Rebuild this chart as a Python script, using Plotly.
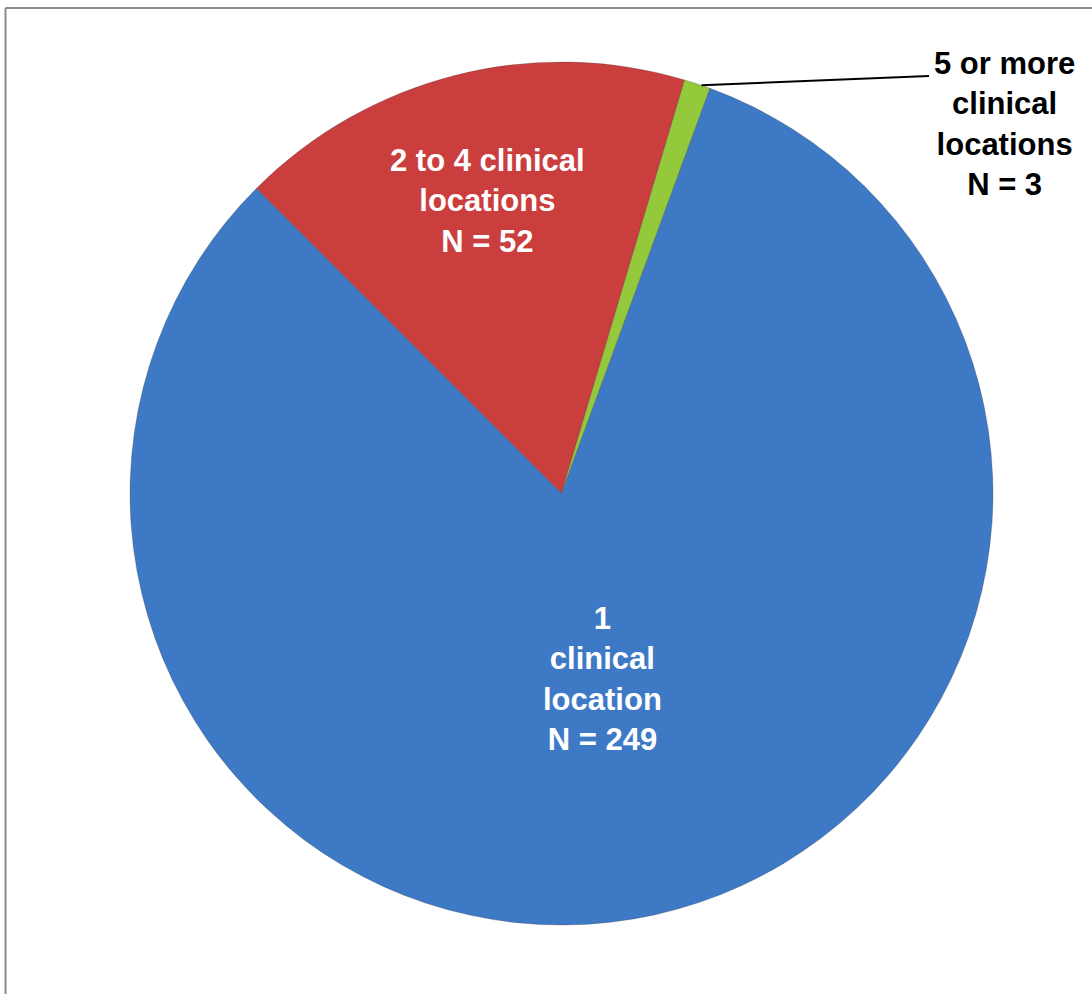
import math
import plotly.graph_objects as go

# Data
categories = ["2 to 4 clinical<br>locations", "5 or more<br>clinical<br>locations", "1<br>clinical<br>location"]
counts = [52, 3, 249]
colors = ["#CB3E3E", "#94C93C", "#3E79C6"]

W, H = 1092, 994
# pie placement in pixels
CX, CY, R = 561.5, 493.5, 431.5
ROT = -45
FONT = "Arial, Liberation Sans, sans-serif"
FSIZE = 31

fig = go.Figure()
fig.add_trace(go.Pie(
    labels=[c.replace("<br>", " ") for c in categories],
    values=counts,
    sort=False,
    direction="clockwise",
    rotation=ROT,
    marker=dict(colors=colors, line=dict(color="rgba(60,60,60,0.35)", width=0.8)),
    textinfo="none",
    hoverinfo="label+value",
    showlegend=False,
    domain=dict(x=[(CX - R) / W, (CX + R) / W], y=[1 - (CY + R) / H, 1 - (CY - R) / H]),
))

total = sum(counts)
angles = []
a = ROT
for v in counts:
    span = v / total * 360
    angles.append((a, a + span))
    a += span

def px_to_paper(x, y):
    return x / W, 1 - y / H

label_frac = [0.70, None, 0.44]
for i, (cat, v) in enumerate(zip(categories, counts)):
    text = f"{cat}<br>N = {v}"
    if label_frac[i] is not None:
        mid = math.radians((angles[i][0] + angles[i][1]) / 2)
        r = label_frac[i] * R
        x = CX + r * math.sin(mid)
        y = CY - r * math.cos(mid)
        px, py = px_to_paper(x, y)
        fig.add_annotation(x=px, y=py, xref="paper", yref="paper", text=text,
                           showarrow=False, align="center", xanchor="center", yanchor="middle",
                           font=dict(family=FONT, size=FSIZE, color="white", weight="bold"))
    else:
        mid = math.radians(angles[i][1] - 1.2)
        ex = CX + R * math.sin(mid)
        ey = CY - R * math.cos(mid)
        x0, y0 = px_to_paper(ex, ey)
        x1, y1 = px_to_paper(929, 76)
        fig.add_shape(type="line", xref="paper", yref="paper", x0=x0, y0=y0, x1=x1, y1=y1,
                      line=dict(color="black", width=2))
        tx, ty = px_to_paper(1004, 124)
        fig.add_annotation(x=tx, y=ty, xref="paper", yref="paper", text=text,
                           showarrow=False, align="center", xanchor="center", yanchor="middle",
                           font=dict(family=FONT, size=FSIZE, color="black", weight="bold"))

# outer frame (left and top edges)
lx, _ = px_to_paper(5.5, 0)
_, ty = px_to_paper(0, 8)
fig.add_shape(type="line", xref="paper", yref="paper", x0=lx, y0=0, x1=lx, y1=ty,
              line=dict(color="#8A8A8A", width=2))
fig.add_shape(type="line", xref="paper", yref="paper", x0=lx, y0=ty, x1=1, y1=ty,
              line=dict(color="#8A8A8A", width=2))

fig.update_layout(
    width=W, height=H,
    margin=dict(l=0, r=0, t=0, b=0),
    paper_bgcolor="white",
    plot_bgcolor="white",
)

fig.write_html("out.html")
